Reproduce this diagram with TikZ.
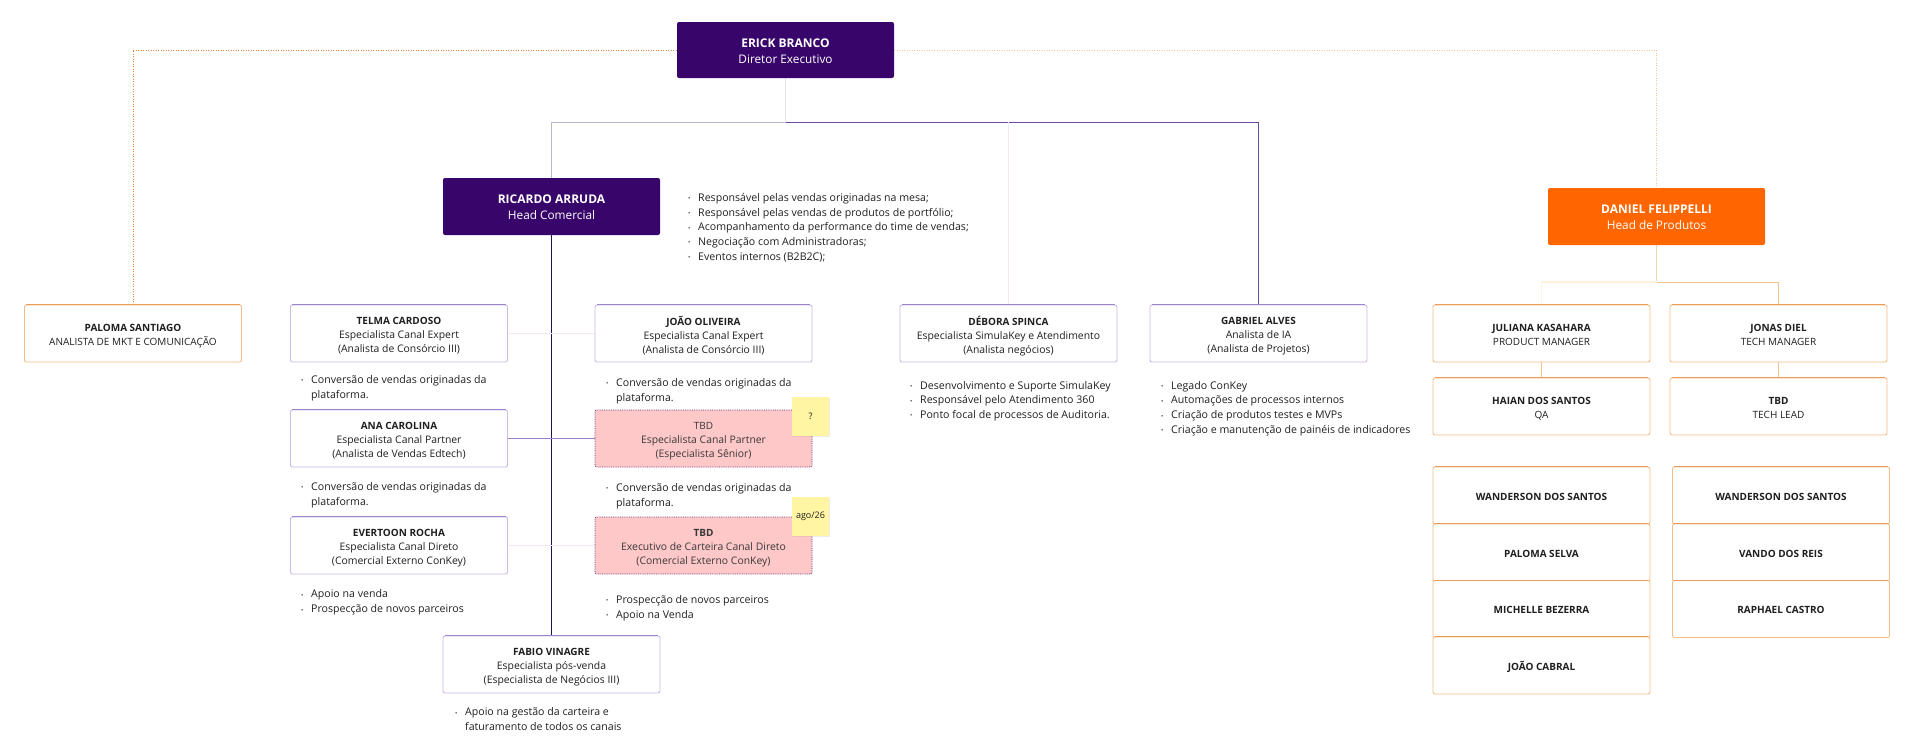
\documentclass[tikz,border=0pt]{standalone}
\usepackage{fontspec}
\setmainfont{Open Sans}
\usetikzlibrary{shadows}
\definecolor{dpurple}{HTML}{38066A}
\definecolor{orng}{HTML}{FF6600}
\definecolor{txt}{HTML}{1F1F1F}
\definecolor{pborder}{HTML}{CBB9EA}
\definecolor{ptop}{HTML}{9C86CB}
\definecolor{oborder}{HTML}{F5BD85}
\definecolor{otop}{HTML}{E6924F}
\definecolor{pinkfill}{HTML}{FFC8C8}
\definecolor{pinkline}{HTML}{5E2E70}
\definecolor{sticky}{HTML}{FFF5A3}
\definecolor{ldot}{HTML}{E8863E}
\definecolor{rdot}{HTML}{F8C694}
\definecolor{grayp}{HTML}{BDB5CC}
\definecolor{midp}{HTML}{6B4A9E}
\definecolor{darkp}{HTML}{2A0F55}
\definecolor{faintp}{HTML}{F4E8F4}
\definecolor{anap}{HTML}{9B7DC9}
\definecolor{oline}{HTML}{F2C28F}
\definecolor{opale}{HTML}{FFF3DE}
\pgfdeclarelayer{bg}
\pgfsetlayers{bg,main}
\newcommand{\bu}{\makebox[10pt][l]{\raisebox{0.6pt}{\fontsize{6}{6}\selectfont •}}}
\newcommand{\cont}{\hspace*{10pt}}
\newcommand{\nm}[1]{{\fontsize{10}{14}\selectfont\bfseries #1}}
\newcommand{\up}[1]{{\fontsize{10}{14}\selectfont #1}}
\newcommand{\hn}[1]{{\fontsize{12}{16}\selectfont\bfseries #1}}
\tikzset{
  basebox/.style={rectangle, rounded corners=2pt, minimum width=217pt, minimum height=57pt,
    inner sep=0pt, align=center, font=\fontsize{10}{14}\selectfont, text=txt},
  onebox/.style={execute at begin node=\rule{0pt}{13.8pt}, execute at end node=\strut},
  headbox/.style={basebox},
  pbox/.style={basebox, draw=pborder, fill=white, line width=0.9pt},
  obox/.style={basebox, draw=oborder, fill=white, line width=0.9pt},
  tbdbox/.style={basebox, fill=pinkfill, draw=pinkline, densely dotted, line width=0.8pt},
  boxtxt/.style={align=center, inner sep=0pt, font=\fontsize{10.4}{14}\selectfont, text=txt,
    yshift=-3.5pt, execute at begin node=\strut, execute at end node=\strut},
  tbdtxt/.style={boxtxt, text=black!78},
  headtxt/.style={boxtxt, font=\fontsize{11.8}{16}\selectfont, text=white},
  note/.style={rectangle, fill=sticky, minimum width=37pt, minimum height=39pt, inner sep=0pt,
    font=\fontsize{9}{10}\selectfont, text=txt,
    drop shadow={shadow xshift=1pt, shadow yshift=-1pt, opacity=0.15}},
  bl/.style={anchor=west, align=left, inner sep=0pt, font=\fontsize{10.6}{14.7}\selectfont, text=txt,
    yshift=-3.5pt, execute at begin node=\strut, execute at end node=\strut},
  conn/.style={line width=0.9pt},
}
\begin{document}
\begin{tikzpicture}[x=1pt,y=-1pt]
\useasboundingbox (0,0) rectangle (1920,755);
% heads
\node[headbox, fill=dpurple, minimum height=56pt, label={[headtxt]center:{\hn{ERICK BRANCO}\\Diretor Executivo}}] (erick) at (785.5,50) {};
\node[headbox, fill=dpurple, label={[headtxt]center:{\hn{RICARDO ARRUDA}\\Head Comercial}}] (ricardo) at (551.5,206.5) {};
\node[headbox, fill=orng, label={[headtxt]center:{\hn{DANIEL FELIPPELLI}\\Head de Produtos}}] (daniel) at (1656.5,216.5) {};
% row 2
\node[obox, label={[boxtxt]center:{\nm{PALOMA SANTIAGO}\\\up{ANALISTA DE MKT E COMUNICAÇÃO}}}] (paloma) at (133,333.5) {};
\node[pbox, label={[boxtxt]center:{\nm{TELMA CARDOSO}\\Especialista Canal Expert\\(Analista de Consórcio III)}}] (telma) at (399,333.5) {};
\node[pbox, label={[boxtxt]center:{\nm{JOÃO OLIVEIRA}\\Especialista Canal Expert\\(Analista de Consórcio III)}}] (joao) at (703.5,333.5) {};
\node[pbox, label={[boxtxt]center:{\nm{DÉBORA SPINCA}\\Especialista SimulaKey e Atendimento\\(Analista negócios)}}] (debora) at (1008.5,333.5) {};
\node[pbox, label={[boxtxt]center:{\nm{GABRIEL ALVES}\\Analista de IA\\(Analista de Projetos)}}] (gabriel) at (1258.5,333.5) {};
\node[obox, label={[boxtxt]center:{\nm{JULIANA KASAHARA}\\\up{PRODUCT MANAGER}}}] (juliana) at (1541.5,333.5) {};
\node[obox, label={[boxtxt]center:{\nm{JONAS DIEL}\\\up{TECH MANAGER}}}] (jonas) at (1778.5,333.5) {};
\node[obox, label={[boxtxt]center:{\nm{HAIAN DOS SANTOS}\\\up{QA}}}] (haian) at (1541.5,406.5) {};
\node[obox, label={[boxtxt]center:{\nm{TBD}\\\up{TECH LEAD}}}] (tbdtl) at (1778.5,406.5) {};
% commercial team
\node[pbox, label={[boxtxt]center:{\nm{ANA CAROLINA}\\Especialista Canal Partner\\(Analista de Vendas Edtech)}}] (ana) at (399,438.5) {};
\node[tbdbox, label={[tbdtxt]center:{\up{TBD}\\Especialista Canal Partner\\(Especialista Sênior)}}] (tbda) at (703.5,438.5) {};
\node[pbox, label={[boxtxt]center:{\nm{EVERTOON ROCHA}\\Especialista Canal Direto\\(Comercial Externo ConKey)}}] (evertoon) at (399,545.5) {};
\node[tbdbox, label={[tbdtxt]center:{\nm{TBD}\\Executivo de Carteira Canal Direto\\(Comercial Externo ConKey)}}] (tbdb) at (703.5,545.5) {};
\node[pbox, label={[boxtxt]center:{\nm{FABIO VINAGRE}\\Especialista pós-venda\\(Especialista de Negócios III)}}] (fabio) at (551.5,664.5) {};
% sticky notes
\node[note] (nq) at (810.5,416.5) {?};
\node[note] (nago) at (810.5,516.5) {ago/26};
% product team stacks
\node[obox, onebox] (wand1) at (1541.5,495.5) {\textbf{WANDERSON DOS SANTOS}};
\node[obox, onebox] (pselva) at (1541.5,552.5) {\textbf{PALOMA SELVA}};
\node[obox, onebox] (michelle) at (1541.5,609) {\textbf{MICHELLE BEZERRA}};
\node[obox, onebox] (jcabral) at (1541.5,665.5) {\textbf{JOÃO CABRAL}};
\node[obox, onebox] (wand2) at (1781,495.5) {\textbf{WANDERSON DOS SANTOS}};
\node[obox, onebox] (vando) at (1781,552.5) {\textbf{VANDO DOS REIS}};
\node[obox, onebox] (raphael) at (1781,609) {\textbf{RAPHAEL CASTRO}};
% top edges
\foreach \n in {telma,joao,debora,gabriel,ana,evertoon,fabio}
  \draw[ptop, line width=0.9pt] ([xshift=2pt]\n.north west) -- ([xshift=-2pt]\n.north east);
\foreach \n in {paloma,juliana,jonas,haian,tbdtl,wand1,pselva,michelle,jcabral,wand2,vando,raphael}
  \draw[otop!80!oborder, line width=0.9pt] ([xshift=2pt]\n.north west) -- ([xshift=-2pt]\n.north east);
% bullet lists
\node[bl] (bric) at (688,225.5) {\bu Responsável pelas vendas originadas na mesa;\\\bu Responsável pelas vendas de produtos de portfólio;\\\bu Acompanhamento da performance do time de vendas;\\\bu Negociação com Administradoras;\\\bu Eventos internos (B2B2C);};
\node[bl] (btelma) at (301,385.5) {\bu Conversão de vendas originadas da\\\cont plataforma.};
\node[bl] (bana) at (301,492.5) {\bu Conversão de vendas originadas da\\\cont plataforma.};
\node[bl] (bever) at (301,600) {\bu Apoio na venda\\\bu Prospecção de novos parceiros};
\node[bl] (bjoao) at (606,388.5) {\bu Conversão de vendas originadas da\\\cont plataforma.};
\node[bl] (btbda) at (606,493.5) {\bu Conversão de vendas originadas da\\\cont plataforma.};
\node[bl] (btbdb) at (606,605.5) {\bu Prospecção de novos parceiros\\\bu Apoio na Venda};
\node[bl] (bfabio) at (455,718) {\bu Apoio na gestão da carteira e\\\cont faturamento de todos os canais};
\node[bl] (bdeb) at (910,398.5) {\bu Desenvolvimento e Suporte SimulaKey\\\bu Responsável pelo Atendimento 360\\\bu Ponto focal de processos de Auditoria.};
\node[bl] (bgab) at (1161,406) {\bu Legado ConKey\\\bu Automações de processos internos\\\bu Criação de produtos testes e MVPs\\\bu Criação e manutenção de painéis de indicadores};
% connectors
\coordinate (hub) at (785.5,122);
\coordinate (dhub) at (1656.5,282);
\begin{pgfonlayer}{bg}
\draw[conn, ldot, dash pattern=on 1.2pt off 1.3pt] (erick.west) -| (paloma.north);
\draw[conn, rdot, dash pattern=on 1.2pt off 1.3pt] (erick.east) -| (daniel.north);
\draw[conn, black!10] (erick.south) -- (hub);
\draw[conn, grayp] (hub) -| (ricardo.north);
\draw[conn, midp] (hub) -| (gabriel.north);
\draw[conn, faintp] (debora.north) -- (debora.north |- hub);
\draw[line width=1.4pt, darkp] (ricardo.south) -- (fabio.north);
\draw[line width=1.5pt, faintp] (telma.east) -- (joao.west);
\draw[conn, anap] (ana.east) -- (tbda.west);
\draw[line width=1.5pt, faintp] (evertoon.east) -- (tbdb.west);
\draw[conn, oline!70] (daniel.south) -- (dhub);
\draw[line width=1.5pt, opale] (dhub) -| (juliana.north);
\draw[conn, oline] (dhub) -| (jonas.north);
\draw[conn, oline] (juliana.south) -- (haian.north);
\draw[conn, oline] (jonas.south) -- (tbdtl.north);
\end{pgfonlayer}
\end{tikzpicture}
\end{document}
